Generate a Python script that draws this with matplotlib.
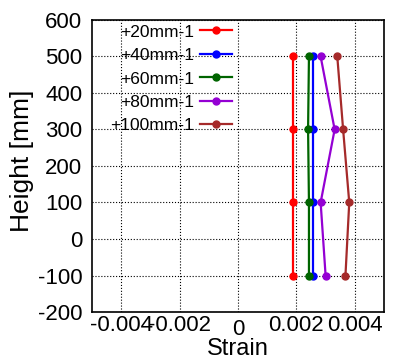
import numpy as np
import matplotlib
matplotlib.use("Agg")
import matplotlib.pyplot as plt

plt.rcParams['font.family'] = ['Liberation Sans', 'DejaVu Sans']
plt.rcParams['axes.unicode_minus'] = False

# heights of the gauges
height = [500, 300, 100, -100]

# strain per displacement step
labels = ["+20mm-1", "+40mm-1", "+60mm-1", "+80mm-1", "+100mm-1"]
strain_20 = [0.00188, 0.00188, 0.00188, 0.00188]
strain_40 = [0.00256, 0.00256, 0.00256, 0.00256]
strain_60 = [0.00243, 0.00240, 0.00243, 0.00243]
strain_80 = [0.00283, 0.00331, 0.00283, 0.00300]
strain_100 = [0.00340, 0.00360, 0.00381, 0.00368]
colors = ["red", "blue", "darkgreen", "darkviolet", "brown"]

fig = plt.figure(figsize=(3.94, 3.61), dpi=100)
ax = fig.add_axes([92/394, 1 - 312/361, 292/394, 292/361])

for s, lab, c in zip([strain_20, strain_40, strain_60, strain_80, strain_100], labels, colors):
    ax.plot(s, height, "-o", color=c, label=lab, lw=1.6, ms=5)

ax.set_xlim(-0.005, 0.005)
ax.set_ylim(-200, 600)
ax.set_xticks([-0.004, -0.002, 0, 0.002, 0.004])
ax.set_xticklabels(["-0.004", "-0.002", "0", "0.002", "0.004"])
ax.set_yticks(np.arange(-200, 601, 100))
ax.tick_params(direction="in", length=0, labelsize=16)
ax.tick_params(axis="y", pad=7)
ax.tick_params(axis="x", pad=2.5)
ax.grid(True, color="black", linestyle=":", lw=0.8)
for sp in ax.spines.values():
    sp.set_linewidth(1.2)
# the "0" label sits a bit lower in the original
ax.xaxis.get_major_ticks()[2].label1.set_y(-0.012)

ax.set_xlabel("Strain", fontsize=17)
ax.xaxis.set_label_coords(0.5, -0.09)
ax.set_ylabel("Height [mm]", fontsize=19)
ax.yaxis.set_label_coords(-0.199, 0.519)

ax.legend(loc="upper right", bbox_to_anchor=(0.48, 0.985), frameon=False, markerfirst=False,
          fontsize=12.5, handlelength=1.85, handletextpad=0.35, labelspacing=0.48,
          borderpad=0, borderaxespad=0)

plt.savefig("out.png", dpi=100)
